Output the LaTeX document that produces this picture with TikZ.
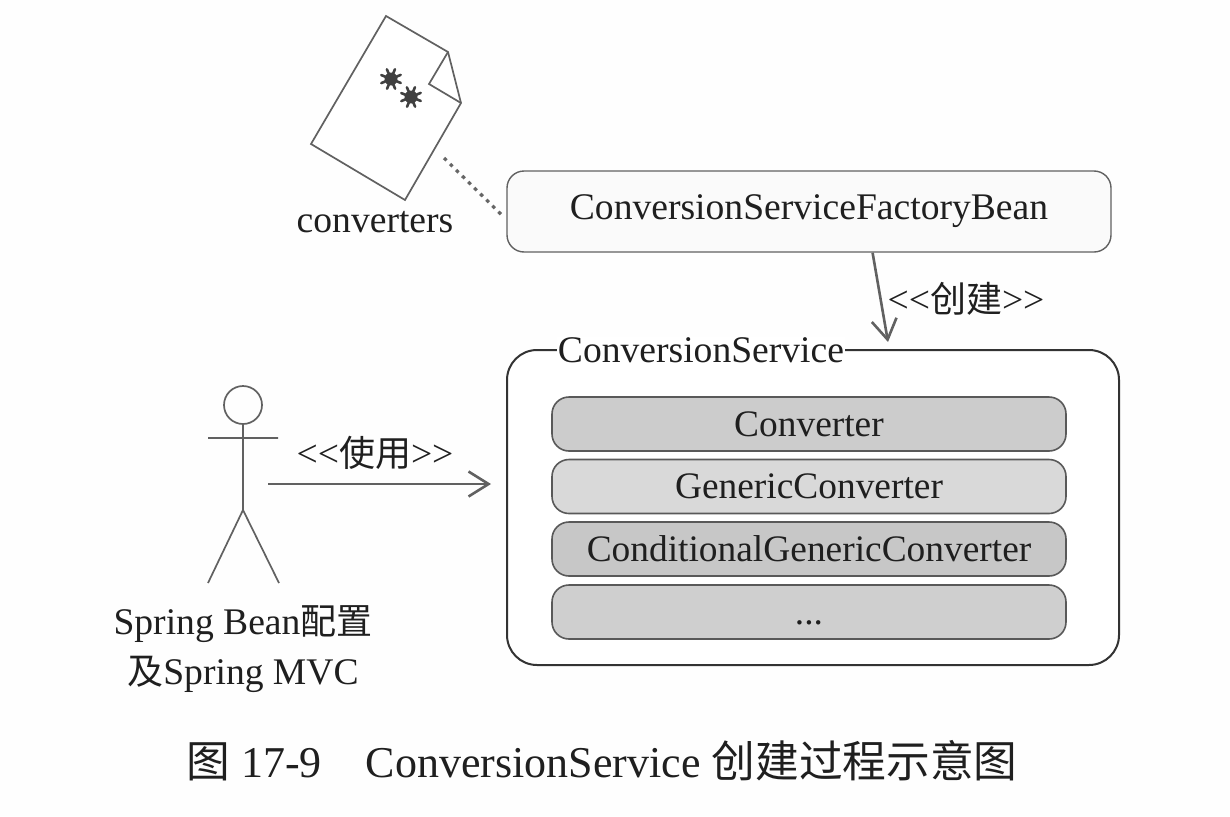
\documentclass[tikz,border=0pt]{standalone}
\usepackage{fontspec}
\usetikzlibrary{calc,arrows.meta}
\setmainfont{Liberation Serif}
\newfontfamily\cjk{Noto Sans CJK SC}
\newcommand{\cjklbl}{\cjk\fontsize{36}{42}\selectfont}
\newcommand{\cjkcap}{\cjk\fontsize{43.7}{50}\selectfont}
\definecolor{linec}{gray}{0.38}
\tikzset{
  lbl/.style={inner sep=0pt,text=black!88,font=\fontsize{37.6}{45}\selectfont,align=center},
  fbox/.style={draw=linec,line width=1.4pt,fill=black!2,rounded corners=17pt,minimum width=604pt,minimum height=81pt,inner sep=0pt,font=\fontsize{37.6}{45}\selectfont,text=black!88},
  sbox/.style={draw=black!80,line width=2pt,fill=white,rounded corners=30pt,minimum width=612pt,minimum height=315pt,inner sep=0pt},
  ibox/.style={draw=black!65,line width=1.6pt,rounded corners=17pt,minimum width=514pt,minimum height=54pt,inner sep=0pt,font=\fontsize{37.4}{44}\selectfont,text=black!88},
  conn/.style={draw=linec,line width=2.6pt,-{Straight Barb[length=20pt,width=25pt,line width=2.6pt]}},
  sketch/.style={draw=black!62,line width=1.7pt,line join=miter},
  spoke/.style={draw=black!75,line width=2.6pt,line cap=round},
}
\begin{document}
\begin{tikzpicture}[x=1pt,y=-1pt]
\useasboundingbox (0,0) rectangle (1230,816);
\fill[black!0.5] (0,0) rectangle (1230,816);
% document icon
\draw[sketch,fill=white] (386,16) -- (448,52) -- (461,103) -- (405,200) -- (311,144) -- cycle;
\draw[sketch] (448,52) -- (429,84) -- (461,103);
\foreach \cx/\cy in {391/79,411/97}{
  \foreach \a in {0,45,90,135}{
    \draw[spoke] ($(\cx,\cy)+(\a+22:10.5)$) -- ($(\cx,\cy)+(\a+202:10.5)$);
  }
  \fill[black!75] (\cx,\cy) circle (6.5);
}
\node[lbl] (convlabel) at (375,222) {converters};
\coordinate (docedge) at (444,158);
% factory
\node[fbox] (factory) at (809,211.5) {ConversionServiceFactoryBean};
\draw[draw=black!60,line width=3.2pt,dash pattern=on 3.5pt off 5pt] (docedge) -- ($(factory.west)+(-2,6)$);
% service
\node[sbox] (service) at (813,507.5) {};
\node[lbl,fill=white,inner xsep=1pt] (title) at (701,350) {ConversionService};
\node[ibox,fill=black!20] (b1) at (809,424) {Converter};
\node[ibox,fill=black!15] (b2) at (809,486.5) {GenericConverter};
\node[ibox,fill=black!22] (b3) at (809,549) {ConditionalGenericConverter};
\node[ibox,fill=black!19] (b4) at (809,612) {\vphantom{C}...};
% create arrow
\coordinate (createend) at (888,342);
\draw[conn] ($(factory.south west)!0.605!(factory.south east)$) -- (createend);
\node[lbl] (create) at (966,299) {<{}<{\cjklbl 创建}>{}>};
% actor
\node[draw=black!62,line width=1.7pt,circle,minimum size=38pt,inner sep=0pt] (head) at (243,405) {};
\coordinate (hip) at (243,510);
\coordinate (armL) at (208,438);
\coordinate (armR) at (278,438);
\coordinate (legL) at (208,583);
\coordinate (legR) at (279,583);
\draw[sketch] (head.south) -- (hip) (armL) -- (armR) (legL) -- (hip) -- (legR);
\node[lbl] (uselbl) at (375,453) {<{}<{\cjklbl 使用}>{}>};
\coordinate (usefrom) at (268,484);
\draw[conn,shorten >=15pt] (usefrom) -- (service.west |- usefrom);
\node[lbl] (actor1) at (243,624) {Spring Bean{\cjklbl 配置}};
\node[lbl] (actor2) at (243,674) {{\cjklbl 及}Spring MVC};
% caption
\node[lbl,font=\fontsize{44}{52}\selectfont] (caption) at (602,761) {{\cjkcap 图} 17-9\hspace{44pt}ConversionService {\cjkcap 创建过程示意图}};
\end{tikzpicture}
\end{document}
